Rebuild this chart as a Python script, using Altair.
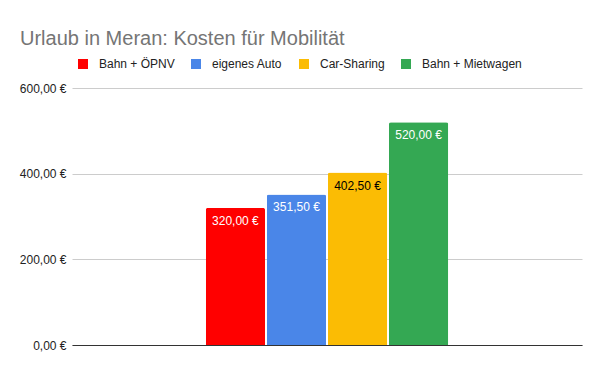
import altair as alt
import pandas as pd

series = ["Bahn + ÖPNV", "eigenes Auto", "Car-Sharing", "Bahn + Mietwagen"]
values = [320.00, 351.50, 402.50, 520.00]
colors = ["#ff0000", "#4a86e8", "#fbbc04", "#34a853"]
y_ticks = [0, 200, 400, 600]

FONT = "Liberation Sans"

df = pd.DataFrame({"series": series, "value": values, "group": ["Kosten"] * len(series)})

x_enc = alt.X("group:N", axis=alt.Axis(labels=False, ticks=False, title=None,
                                       domain=True, domainColor="#333333", grid=False),
              scale=alt.Scale(paddingInner=0, paddingOuter=0.552))
xo_enc = alt.XOffset("series:N", sort=series, scale=alt.Scale(paddingInner=0.03, paddingOuter=0))
y_enc = alt.Y("value:Q", title=None,
              scale=alt.Scale(domain=[0, 600], nice=False),
              axis=alt.Axis(values=y_ticks, domain=False, ticks=False, labelPadding=6,
                            gridColor="#cccccc", labelColor="#222222", labelFontSize=12,
                            labelFont=FONT,
                            labelExpr="replace(format(datum.value, '.2f'), '.', ',') + ' €'"))

bars = alt.Chart(df).mark_bar(cornerRadiusTopLeft=2, cornerRadiusTopRight=2).encode(
    x=x_enc,
    xOffset=xo_enc,
    y=y_enc,
    color=alt.Color("series:N", sort=series,
                    scale=alt.Scale(domain=series, range=colors),
                    legend=alt.Legend(title=None, orient="none", direction="horizontal",
                                      legendX=5, legendY=-30, symbolType="square",
                                      symbolSize=100, symbolStrokeWidth=0, labelFont=FONT,
                                      labelFontSize=12, labelColor="#222222", labelOffset=10,
                                      columnPadding=15, columns=4)),
)

labels = alt.Chart(df).mark_text(baseline="top", dy=8, font=FONT, fontSize=12).encode(
    x=alt.X("group:N"),
    xOffset=alt.XOffset("series:N", sort=series),
    y=alt.Y("value:Q"),
    text=alt.Text("label:N"),
    color=alt.condition(alt.datum.series == "Car-Sharing", alt.value("#000000"), alt.value("#ffffff")),
).transform_calculate(
    label="replace(format(datum.value, '.2f'), '.', ',') + ' €'"
)

chart = alt.layer(bars, labels).properties(
    width=510, height=257,
    autosize=alt.AutoSizeParams(type="none"),
    padding={"left": 64, "top": 80, "right": 10, "bottom": 18},
    title=alt.Title("Urlaub in Meran: Kosten für Mobilität", anchor="start", frame="group",
                    font=FONT, fontSize=20, fontWeight="normal", color="#757575",
                    dx=-52, offset=9),
).configure_view(stroke=None)

chart.save("out.html", embed_options={"renderer": "svg", "actions": False})
